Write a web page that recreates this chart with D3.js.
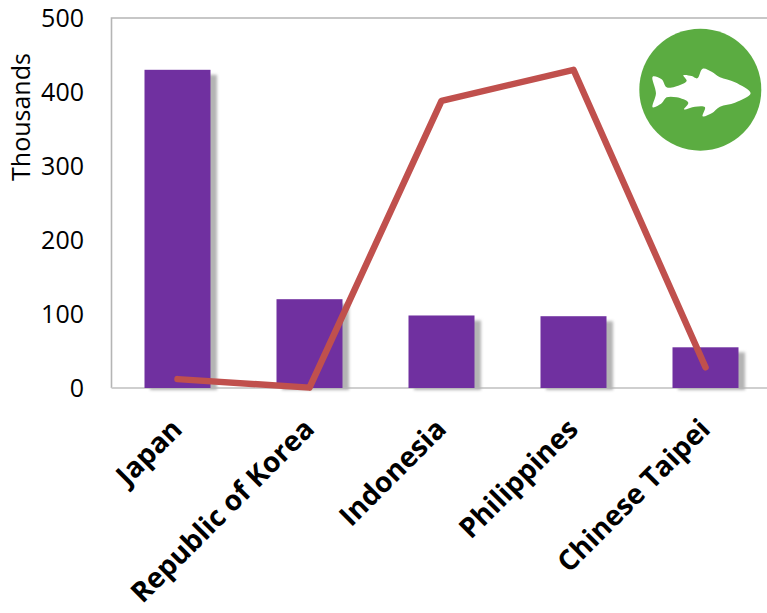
<!DOCTYPE html>
<html><head><meta charset="utf-8">
<script src="https://cdnjs.cloudflare.com/ajax/libs/d3/7.8.5/d3.min.js"></script>
<style>html,body{margin:0;padding:0;background:#fff}svg{display:block}text{font-family:"Open Sans",sans-serif;fill:#000}</style>
</head><body><div id="c"></div>
<script>
const categories=["Japan","Republic of Korea","Indonesia","Philippines","Chinese Taipei"];
const barValues=[430,120,98,97,55];
const lineValues=[12,0.5,388,430,28];
const yTicks=[0,100,200,300,400,500];
const W=767,H=613;
const svg=d3.select("#c").append("svg").attr("width",W).attr("height",H);
const defs=svg.append("defs");
const f=defs.append("filter").attr("id","blur").attr("x","-20%").attr("y","-20%").attr("width","140%").attr("height","140%");
f.append("feGaussianBlur").attr("stdDeviation",1.5);
const x=d3.scaleBand().domain(categories).range([112,772]).paddingInner(0.5).paddingOuter(0.25);
const y=d3.scaleLinear().domain([0,500]).range([388,18]);
const bw=x.bandwidth();
svg.append("path").attr("d",`M${W},18H111.5V388`).attr("fill","none").attr("stroke","#b5b5b5").attr("stroke-width",1.6);
svg.append("path").attr("d",`M111.5,388H${W}`).attr("fill","none").attr("stroke","#cfcfcf").attr("stroke-width",1.8);
svg.append("g").selectAll("rect").data(categories).join("rect")
 .attr("x",d=>x(d)+5).attr("y",(d,i)=>y(barValues[i])+5).attr("width",bw+1).attr("height",(d,i)=>y(0)-y(barValues[i])-3)
 .attr("fill","#b4b4b4").attr("filter","url(#blur)");
svg.append("g").selectAll("rect").data(categories).join("rect")
 .attr("x",d=>x(d)-0.5).attr("y",(d,i)=>y(barValues[i])).attr("width",bw).attr("height",(d,i)=>y(0)-y(barValues[i]))
 .attr("fill","#7030a0");
const line=d3.line().x((d,i)=>x(categories[i])+bw/2-0.5).y(d=>y(d));
svg.append("path").attr("d",line(lineValues)).attr("fill","none").attr("stroke","#c0504d").attr("stroke-width",6.5).attr("stroke-linecap","round").attr("stroke-linejoin","round");
const yAxis=d3.axisLeft(y).tickValues(yTicks).tickSize(0).tickPadding(0);
const gy=svg.append("g").attr("transform","translate(84,0)").call(yAxis);
gy.select(".domain").remove();
gy.selectAll("text").attr("font-size",25).attr("style",'font-family:"Open Sans",sans-serif;fill:#000');
svg.append("text").attr("transform","translate(30,117) rotate(-90)").attr("text-anchor","middle").attr("font-size",25).text("Thousands");
svg.append("g").selectAll("text").data(categories).join("text")
 .attr("transform",d=>`translate(${x(d)+bw/2-8},${417}) rotate(-45)`)
 .attr("text-anchor","end").attr("font-size",28).attr("font-weight",700).attr("dy","0.7em").text(d=>d);
const icon=svg.append("g").attr("transform","translate(700.3,89.7)");
icon.append("circle").attr("r",61).attr("fill","#5bac41");
const fish=[[98,230],[125,238],[140,262],[165,260],[200,243],[190,226],[215,228],[232,235],[248,206],[275,215],[300,232],[345,247],[392,280],[345,308],[300,320],[275,340],[248,349],[255,322],[225,320],[192,328],[205,308],[170,292],[140,292],[125,310],[98,322],[108,280]];
icon.append("path").attr("fill","#fff").attr("d",d3.line().curve(d3.curveCatmullRomClosed.alpha(0.5)).x(d=>(d[0]-241)/3).y(d=>(d[1]-269)/3)(fish));
</script></body></html>
